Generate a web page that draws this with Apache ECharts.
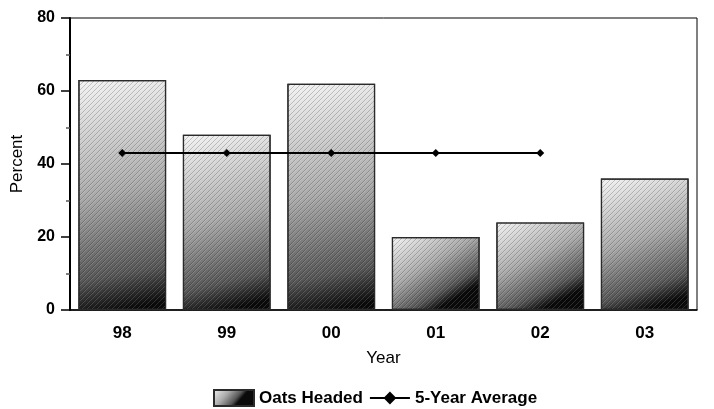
<!DOCTYPE html>
<html><head><meta charset="utf-8">
<script src="https://cdn.jsdelivr.net/npm/echarts@6/dist/echarts.min.js"></script>
<style>html,body{margin:0;padding:0;background:#fff}#c{width:714px;height:409px}</style>
</head><body><div id="c"></div>
<script>
const years = ['98','99','00','01','02','03'];
const oatsHeaded = [63,48,62,20,24,36];
const fiveYearAvg = [43,43,43,43,43,null];
const yTicks = [0,20,40,60,80];

// diagonal hatch tile
const tile = document.createElement('canvas');
tile.width = 5; tile.height = 5;
const tc = tile.getContext('2d');
for (let i = 0; i < 5; i++) {
  tc.fillStyle = 'rgba(0,0,0,0.2)';
  tc.fillRect(i, 4 - i, 1, 1);
  tc.fillStyle = 'rgba(255,255,255,0.15)';
  tc.fillRect(i, (5 - i) % 5, 1, 1);
}

const chart = echarts.init(document.getElementById('c'), null, {renderer:'canvas'});
const F = '"Liberation Sans", Arial, sans-serif';
const barGrad = new echarts.graphic.LinearGradient(0,0,0.5,1,[
  {offset:0,color:'#f4f4f4'},{offset:0.5,color:'#aaaaaa'},{offset:0.85,color:'#565656'},{offset:1,color:'#0a0a0a'}]);
chart.setOption({
  animation:false,
  grid:{left:70,right:17,top:18,bottom:99,show:true,borderColor:'#000',borderWidth:1,outerBoundsMode:'none',containLabel:false},
  legend:{bottom:-3,left:208,itemWidth:40,itemHeight:16,itemGap:6,
    textStyle:{fontFamily:F,fontWeight:'bold',fontSize:17,color:'#000'},
    data:[{name:'Oats Headed',icon:'rect'},{name:'5-Year Average'}]},
  xAxis:{type:'category',data:years,name:'Year',nameLocation:'middle',nameGap:40,
    nameTextStyle:{fontFamily:F,fontSize:17,color:'#000'},
    axisLine:{lineStyle:{color:'#000',width:1.5}},axisTick:{show:false},
    axisLabel:{fontFamily:F,fontWeight:'bold',fontSize:17,color:'#000',margin:15}},
  yAxis:{type:'value',min:yTicks[0],max:yTicks[yTicks.length-1],interval:20,
    name:'Percent',nameLocation:'middle',nameGap:42,
    nameTextStyle:{fontFamily:F,fontSize:17,color:'#000'},
    axisLine:{show:true,lineStyle:{color:'#000',width:2}},
    axisTick:{show:true,length:9,lineStyle:{color:'#000',width:1.5}},
    minorTick:{show:true,splitNumber:2,length:4,lineStyle:{color:'#555',width:1.5}},
    splitLine:{show:false},
    axisLabel:{fontFamily:F,fontWeight:'bold',fontSize:16,color:'#000',margin:15}},
  series:[
    {name:'Oats Headed',type:'bar',data:oatsHeaded,barCategoryGap:'16%',
     itemStyle:{color:barGrad,borderColor:'#2a2a2a',borderWidth:1.2}},
    {name:'hatch',type:'bar',data:oatsHeaded,barGap:'-100%',barCategoryGap:'16%',silent:true,
     itemStyle:{color:{image:tile,repeat:'repeat'},borderColor:'#2a2a2a',borderWidth:1.2}},
    {name:'5-Year Average',type:'line',data:fiveYearAvg,symbol:'diamond',symbolSize:8,
     lineStyle:{color:'#000',width:2},itemStyle:{color:'#000'}}
  ]
});
</script></body></html>
